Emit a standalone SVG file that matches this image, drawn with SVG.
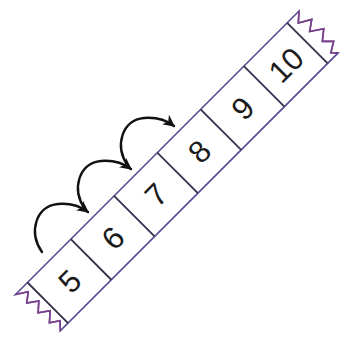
<svg xmlns="http://www.w3.org/2000/svg" width="351" height="346" viewBox="0 0 351 346">
<style>
.edge{fill:#fff;stroke:#5b4b95;stroke-width:1.6;stroke-linejoin:miter}
.torn{fill:none;stroke:#7a3f88;stroke-width:1.6;stroke-linejoin:miter}
.div{stroke:#34304a;stroke-width:1.8}
.num{font-family:"Liberation Sans",Arial,sans-serif;font-size:31px;fill:#1a1a1a;text-anchor:middle}
.hop{fill:none;stroke:#111;stroke-width:2.4;stroke-linecap:round}
</style>
<defs>
<marker id="ah" viewBox="0 0 10 10" refX="9" refY="5" markerWidth="5" markerHeight="5" orient="auto" markerUnits="strokeWidth">
<path d="M0,0 L10,5 L0,10 L3,5 Z" fill="#111"/>
</marker>
</defs>
<rect width="351" height="346" fill="#fff"/>
<g id="strip" transform="translate(27.5,282.5) rotate(-45)">
<path class="edge" d="M-17,0 L384,0 L375,8 L387,15 L377,22 L389,30 L379,38 L387,46 L377,52 L382,57.3 L-11,57.3 L-4,50 L-13,44 L-4,36 L-14,29 L-5,21 L-15,14 L-6,7 Z"/>
<path class="torn" d="M-17,0 L-6,7 L-15,14 L-5,21 L-14,29 L-4,36 L-13,44 L-4,50 L-11,57.3"/>
<path class="torn" d="M384,0 L375,8 L387,15 L377,22 L389,30 L379,38 L387,46 L377,52 L382,57.3"/>
<g id="dividers">
<line class="div" x1="0" y1="0" x2="0" y2="57.3"/>
<line class="div" x1="61.2" y1="0" x2="61.2" y2="57.3"/>
<line class="div" x1="122.4" y1="0" x2="122.4" y2="57.3"/>
<line class="div" x1="183.6" y1="0" x2="183.6" y2="57.3"/>
<line class="div" x1="244.8" y1="0" x2="244.8" y2="57.3"/>
<line class="div" x1="306" y1="0" x2="306" y2="57.3"/>
<line class="div" x1="367.2" y1="0" x2="367.2" y2="57.3"/>
</g>
<g id="cell5"><text class="num" x="30.6" y="39.8">5</text></g>
<g id="cell6"><text class="num" x="91.8" y="39.8">6</text></g>
<g id="cell7"><text class="num" x="153" y="39.8">7</text></g>
<g id="cell8"><text class="num" x="214.2" y="39.8">8</text></g>
<g id="cell9"><text class="num" x="275.4" y="39.8">9</text></g>
<g id="cell10"><text class="num" x="336.6" y="39.8">10</text></g>
</g>
<g id="connectors">
<path class="hop" marker-end="url(#ah)" d="M42,252 C28,232 36,206 58,204 C70,203 80,206 88,212"/>
<path class="hop" marker-end="url(#ah)" d="M85,209 C71,189 79,163 101,161 C113,160 123,163 131,169"/>
<path class="hop" marker-end="url(#ah)" d="M128,166 C114,146 122,120 144,118 C156,117 166,120 174,126"/>
</g>
</svg>
